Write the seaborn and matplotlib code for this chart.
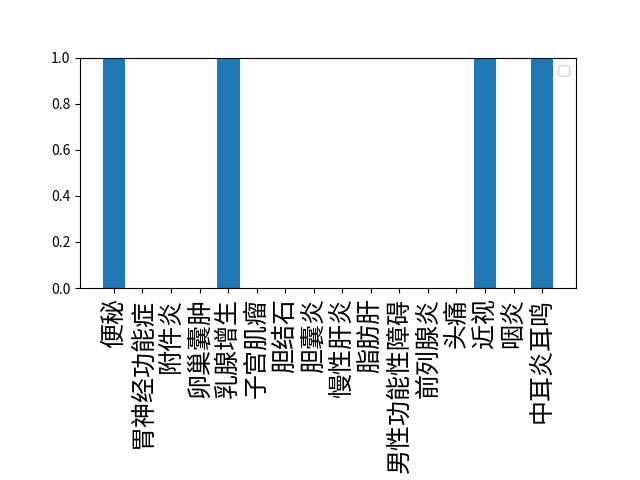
import matplotlib
matplotlib.use("Agg")
import matplotlib.pyplot as plt
import seaborn as sns
import pandas as pd

categories = ["便秘", "胃神经功能症", "附件炎", "卵巢囊肿", "乳腺增生", "子宫肌瘤", "胆结石",
              "胆囊炎", "慢性肝炎", "脂肪肝", "男性功能性障碍", "前列腺炎", "头痛", "近视",
              "咽炎", "中耳炎耳鸣"]
values = [1, 0, 0, 0, 1, 0, 0, 0, 0, 0, 0, 0, 0, 1, 0, 1]

plt.rcParams['font.family'] = ['Noto Sans CJK SC', 'DejaVu Sans']
plt.rcParams['axes.unicode_minus'] = False

df = pd.DataFrame({"cat": categories, "val": values})

fig, ax = plt.subplots(figsize=(6.4, 4.8), dpi=100)
sns.barplot(data=df, x="cat", y="val", color="#1f77b4", saturation=1, width=0.8, ax=ax)
n = len(categories)
margin = 0.05 * (n - 1 + 0.8)
ax.set_xlim(-0.4 - margin, n - 1 + 0.4 + margin)
ax.set_ylim(0, 1)
ax.set_xlabel("")
ax.set_ylabel("")
ax.set_xticks(range(n))
ax.set_xticklabels(categories, rotation=90, fontsize=18)
ax.legend()
fig.subplots_adjust(left=0.125, right=0.9, top=0.88, bottom=0.4)
fig.savefig("out.png", dpi=100)
